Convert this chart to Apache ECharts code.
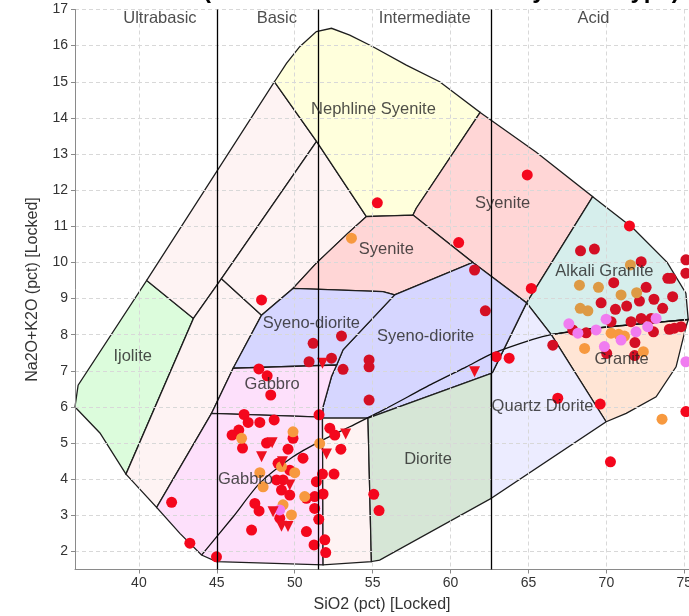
<!DOCTYPE html>
<html>
<head>
<meta charset="utf-8">
<script src="https://cdn.jsdelivr.net/npm/echarts@6/dist/echarts.min.js"></script>
<style>
  html, body { margin: 0; padding: 0; background: #ffffff; }
  #chart { width: 689px; height: 616px; }
</style>
</head>
<body>
<div id="chart"></div>
<script>
// ---- Axis ranges ----
const xRange = [35.9, 75.3];
const yRange = [1.5, 17];

// ---- Silica class dividers (SiO2 %) ----
const classDividers = [45, 51.5, 62.6];
const classNames = ['Ultrabasic', 'Basic', 'Intermediate', 'Acid'];
const classLabelX = [41.35, 48.85, 58.34, 69.17];
const classLabelY = 16.75;

// ---- Rock field outlines: [SiO2, Na2O+K2O] ----
const ijolite = [[35.9, 6.0], [36.1, 6.6], [40.5, 9.5], [43.5, 8.45], [39.17, 4.14], [37.5, 5.28]];
const ultrabasicUpper = [[40.5, 9.5], [48.7, 15.0], [51.4, 13.35], [45.3, 9.55], [43.5, 8.45]];
const ultrabasicLower = [[39.17, 4.14], [41.14, 3.22], [44.66, 5.82], [46.05, 7.07], [47.87, 8.54], [45.3, 9.55], [43.5, 8.45]];
const basicUpper = [[45.3, 9.55], [51.4, 13.35], [54.6, 11.27], [53.42, 10.81], [51.39, 9.98], [49.89, 9.28], [47.87, 8.54]];
const nephelineSyenite = [[48.7, 15.0], [49.47, 15.51], [50.32, 15.97], [51.39, 16.39], [52.36, 16.48], [53.53, 16.29],
  [55.02, 15.97], [57.16, 15.46], [59.3, 15.0], [61.9, 14.15], [57.8, 11.5], [57.59, 11.31], [54.6, 11.27], [51.4, 13.35]];
const syeniteUpper = [[61.9, 14.15], [65.5, 13.05], [69.12, 11.82], [64.88, 8.88], [61.43, 10.0], [57.59, 11.31], [57.8, 11.5]];
const syeniteLower = [[49.89, 9.28], [55.66, 9.19], [56.41, 9.1], [61.43, 10.0], [57.59, 11.31], [54.6, 11.27], [53.42, 10.81], [51.39, 9.98]];
const alkaliGranite = [[69.12, 11.82], [71.7, 10.95], [73.9, 10.0], [75.1, 9.15], [75.25, 8.42], [72.55, 8.31],
  [69.34, 8.18], [66.46, 8.0], [64.88, 8.88]];
const granite = [[66.46, 8.0], [69.34, 8.18], [72.55, 8.31], [75.25, 8.42], [75.11, 8.22], [74.47, 7.11],
  [73.19, 6.28], [71.27, 5.82], [69.98, 5.59]];
const quartzDiorite = [[64.88, 8.88], [66.46, 8.0], [69.98, 5.59], [62.61, 3.47], [62.61, 6.93], [62.71, 6.97]];
const syenoDioriteRight = [[56.41, 9.1], [61.43, 10.0], [64.88, 8.88], [62.71, 6.97], [62.61, 6.93], [54.7, 5.69],
  [51.78, 5.69], [51.82, 6.01], [52.36, 6.84], [52.69, 7.16], [53.1, 7.58]];
const syenoDioriteLeft = [[46.05, 7.07], [52.69, 7.16], [53.1, 7.58], [56.41, 9.1], [55.66, 9.19], [49.89, 9.28], [47.87, 8.54]];
const gabbroUpper = [[46.05, 7.07], [52.69, 7.16], [52.36, 6.84], [51.82, 6.01], [51.78, 5.72], [44.66, 5.82]];
const gabbroLower = [[44.66, 5.82], [51.78, 5.72], [51.82, 1.63], [44.98, 1.72], [44.02, 1.9], [42.63, 2.5], [41.14, 3.22]];
const gabbroDiorite = [[51.78, 5.69], [54.7, 5.69], [54.92, 1.72], [51.82, 1.63]];
const diorite = [[54.7, 5.69], [62.61, 6.93], [62.61, 3.47], [55.45, 1.76], [54.92, 1.72]];

// Alkaline / subalkaline divide
const alkalineDivide = [[44.02, 1.9], [46.05, 2.96], [47.76, 3.89], [49.89, 4.62], [51.6, 5.04], [53.53, 5.45],
  [55.66, 5.91], [58.87, 6.65], [61.01, 7.11], [62.71, 7.48], [65.28, 7.87], [66.46, 8.0], [69.34, 8.18],
  [72.55, 8.31], [75.25, 8.42]];

// ---- Field names placed inside the fields ----
const fieldLabelNames = ['Nephline Syenite', 'Syenite', 'Syenite', 'Alkali Granite', 'Syeno-diorite', 'Syeno-diorite',
  'Ijolite', 'Gabbro', 'Granite', 'Quartz Diorite', 'Diorite', 'Gabbro'];
const fieldLabelX = [55.05, 63.34, 55.88, 69.87, 51.07, 58.4, 39.6, 48.55, 70.98, 65.9, 58.55, 46.84];
const fieldLabelY = [14.24, 11.62, 10.35, 9.74, 8.3, 7.96, 7.39, 6.61, 7.3, 6.01, 4.55, 4.0];

// ---- Samples: [SiO2, Na2O+K2O] ----
const samplesRed = [
  [42.1, 3.36], [43.27, 2.23], [44.98, 1.85], [47.7, 7.05], [48.23, 6.86], [48.46, 6.33], [47.87, 8.96],
  [46.75, 5.79], [47.01, 5.57], [47.76, 5.57], [48.68, 5.64], [46.41, 5.36], [45.98, 5.22], [46.65, 4.86],
  [48.19, 5.0], [49.57, 4.83], [49.89, 5.13], [50.53, 4.58], [48.93, 4.44], [49.68, 4.25], [48.83, 3.98],
  [49.25, 3.98], [49.15, 3.7], [49.68, 3.56], [50.75, 3.47], [47.44, 3.33], [47.71, 3.12], [49.04, 2.92],
  [47.23, 2.59], [50.75, 2.55], [51.24, 2.18], [51.28, 3.19], [51.39, 3.93], [51.28, 3.52],
  [51.56, 5.78], [52.25, 5.41], [52.57, 5.22], [52.96, 4.83], [51.78, 4.14], [52.52, 4.14], [51.82, 3.59],
  [51.54, 2.89], [51.93, 2.32], [51.99, 1.97], [55.07, 3.58], [55.41, 3.13],
  [55.3, 11.65], [60.52, 10.55], [64.92, 12.42], [65.18, 9.28], [71.48, 11.01],
  [62.93, 7.39], [63.76, 7.35], [66.88, 6.24], [69.6, 6.08], [75.1, 5.87], [70.26, 4.48]
];
const samplesCrimson = [
  [51.18, 7.76], [53.0, 7.96], [50.92, 7.25], [52.36, 7.35], [53.1, 7.04], [54.77, 7.3], [54.77, 7.11],
  [54.77, 6.19], [61.54, 9.79], [62.23, 8.66],
  [68.34, 10.32], [69.23, 10.37], [72.23, 10.02], [70.47, 9.44], [72.55, 9.31], [73.94, 9.56], [74.15, 9.56],
  [74.25, 9.05], [75.1, 10.07], [75.1, 9.7], [73.05, 8.98], [72.12, 8.93], [69.66, 8.88], [70.58, 8.7],
  [71.3, 8.79], [73.61, 8.73], [70.3, 8.36], [71.58, 8.36], [72.23, 8.45], [72.87, 8.45], [67.84, 8.13],
  [68.7, 8.05], [73.02, 8.08], [74.04, 8.15], [74.36, 8.18], [74.79, 8.22], [66.56, 7.71], [70.02, 7.48],
  [71.83, 7.78], [71.81, 7.42]
];
const samplesOrange = [
  [46.59, 5.13], [49.89, 5.31], [47.76, 4.18], [50.0, 4.18], [49.15, 4.35], [47.97, 3.79], [50.64, 3.52],
  [49.25, 3.29], [49.79, 3.01], [51.6, 4.99], [53.64, 10.67],
  [70.3, 8.04], [70.79, 8.01], [71.16, 7.96], [68.6, 7.62], [72.37, 7.53], [73.57, 5.66]
];
const samplesOchre = [[71.54, 9.93], [68.27, 9.37], [69.49, 9.31], [70.94, 9.1], [71.94, 9.16], [68.32, 8.73], [68.81, 8.66]];
const samplesViolet = [
  [49.04, 3.15], [69.98, 8.43], [72.65, 8.22], [73.19, 8.45], [67.59, 8.3], [68.17, 8.04], [69.34, 8.13],
  [70.94, 7.85], [71.9, 8.08], [69.87, 7.67], [75.1, 7.25]
];
const samplesTriangle = [
  [48.55, 5.01], [47.87, 4.62], [49.21, 4.48], [49.68, 3.84], [48.61, 3.1], [49.15, 2.7], [49.57, 2.69],
  [51.78, 7.21], [53.27, 5.25], [52.04, 4.7], [61.54, 6.97]
];

// ---- Field drawing styles ----
const fields = [
  { pts: ijolite, fill: '#dcfcdc' },
  { pts: ultrabasicUpper, fill: '#fef3f3' },
  { pts: ultrabasicLower, fill: '#fef3f3' },
  { pts: basicUpper, fill: '#fef3f3' },
  { pts: nephelineSyenite, fill: '#ffffdc' },
  { pts: syeniteUpper, fill: '#ffd6d6' },
  { pts: syeniteLower, fill: '#ffd6d6' },
  { pts: alkaliGranite, fill: '#d6eeec' },
  { pts: granite, fill: '#ffe5d5' },
  { pts: quartzDiorite, fill: '#ececff' },
  { pts: syenoDioriteRight, fill: '#d6d6ff' },
  { pts: syenoDioriteLeft, fill: '#d6d6ff' },
  { pts: gabbroUpper, fill: '#fde0fb' },
  { pts: gabbroLower, fill: '#fde0fb' },
  { pts: gabbroDiorite, fill: '#fef3f3' },
  { pts: diorite, fill: '#d6e6d6' }
];

const FONT = '"Liberation Sans", Arial, sans-serif';
const chart = echarts.init(document.getElementById('chart'), null, { renderer: 'canvas' });

function scatterSeries(name, data, color, symbol, rotate) {
  return {
    name: name,
    type: 'scatter',
    z: 4,
    data: data,
    symbol: symbol,
    symbolRotate: rotate || 0,
    symbolSize: 11,
    itemStyle: { color: color, opacity: 1 },
    emphasis: { disabled: true },
    animation: false
  };
}

const option = {
  animation: false,
  backgroundColor: '#ffffff',
  title: {
    text: 'TAS Plot (Plutonic Rocks - Coloured by Rock Type)',
    left: 93,
    top: -26,
    textStyle: { fontFamily: FONT, fontSize: 24, fontWeight: 'bold', color: '#000' }
  },
  grid: { left: 75, right: 0, top: 9.5, bottom: 46.5, containLabel: false, outerBoundsMode: 'none' },
  xAxis: {
    type: 'value',
    min: xRange[0],
    max: xRange[1],
    splitNumber: 8,
    z: 3,
    name: 'SiO2 (pct) [Locked]',
    nameLocation: 'middle',
    nameGap: 27,
    nameTextStyle: { fontFamily: FONT, fontSize: 16, color: '#333' },
    axisLine: { show: true, onZero: false, lineStyle: { color: '#8a8a8a', width: 1 } },
    axisTick: { show: true, length: 4, lineStyle: { color: '#8a8a8a' } },
    axisLabel: { fontFamily: FONT, fontSize: 14, color: '#333', margin: 7, showMinLabel: false, showMaxLabel: false },
    splitLine: { show: true, lineStyle: { color: '#d8d8d8', type: [4, 3], width: 1 } }
  },
  yAxis: {
    type: 'value',
    min: yRange[0],
    max: yRange[1],
    splitNumber: 16,
    z: 3,
    name: 'Na2O+K2O (pct) [Locked]',
    nameLocation: 'middle',
    nameRotate: 90,
    nameGap: 34,
    nameTextStyle: { fontFamily: FONT, fontSize: 16, color: '#333' },
    axisLine: { show: true, onZero: false, lineStyle: { color: '#8a8a8a', width: 1 } },
    axisTick: { show: true, length: 4, lineStyle: { color: '#8a8a8a' } },
    axisLabel: { fontFamily: FONT, fontSize: 14, color: '#333', margin: 7, showMinLabel: false },
    splitLine: { show: true, lineStyle: { color: '#d8d8d8', type: [4, 3], width: 1 } }
  },
  series: [
    {
      name: 'fields',
      type: 'custom',
      z: 1,
      silent: true,
      data: fields.map((f, i) => [i]),
      renderItem: function (params, api) {
        const f = fields[api.value(0)];
        const points = f.pts.map(p => api.coord(p));
        return {
          type: 'polygon',
          shape: { points: points },
          style: { fill: f.fill, stroke: '#1e1e1e', lineWidth: 1.3 }
        };
      }
    },
    {
      name: 'divide',
      type: 'line',
      z: 2,
      silent: true,
      data: alkalineDivide,
      showSymbol: false,
      smooth: 0.25,
      lineStyle: { color: '#111', width: 1.3 },
      markLine: {
        silent: true,
        symbol: ['none', 'none'],
        label: { show: false },
        lineStyle: { color: '#000', width: 1.3, type: 'solid' },
        data: classDividers.map(v => ({ xAxis: v }))
      }
    },
    scatterSeries('Set A', samplesRed, '#f4071d', 'circle'),
    scatterSeries('Set B', samplesCrimson, '#d40f24', 'circle'),
    scatterSeries('Set C', samplesOrange, '#f7993f', 'circle'),
    scatterSeries('Set D', samplesOchre, '#dd9a45', 'circle'),
    scatterSeries('Set E', samplesViolet, '#f07cf0', 'circle'),
    scatterSeries('Set F', samplesTriangle, '#ee1020', 'triangle', 180),
    {
      name: 'field names',
      type: 'scatter',
      z: 5,
      silent: true,
      symbolSize: 0,
      data: fieldLabelNames.map((n, i) => [fieldLabelX[i], fieldLabelY[i], n]),
      label: {
        show: true,
        position: 'inside',
        formatter: p => p.value[2],
        fontFamily: FONT,
        fontSize: 16.5,
        color: '#222'
      }
    },
    {
      name: 'class names',
      type: 'scatter',
      z: 5,
      silent: true,
      symbolSize: 0,
      data: classNames.map((n, i) => [classLabelX[i], classLabelY, n]),
      label: {
        show: true,
        position: 'inside',
        formatter: p => p.value[2],
        fontFamily: FONT,
        fontSize: 16.5,
        color: '#222'
      }
    }
  ]
};

chart.setOption(option);
</script>
</body>
</html>
